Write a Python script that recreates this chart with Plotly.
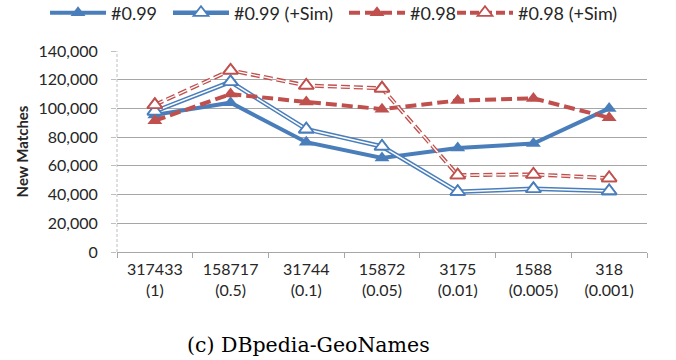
import plotly.graph_objects as go

categories = ["317433<br>(1)", "158717<br>(0.5)", "31744<br>(0.1)", "15872<br>(0.05)",
              "3175<br>(0.01)", "1588<br>(0.005)", "318<br>(0.001)"]
s099 = [95500, 104000, 76500, 65500, 72500, 75500, 100000]
s099_sim = [98000, 118500, 85500, 73500, 42000, 44000, 42500]
s098 = [91500, 110000, 104500, 99500, 105500, 107000, 93500]
s098_sim = [102500, 126500, 116000, 114000, 53500, 54000, 51500]
yticks = [0, 20000, 40000, 60000, 80000, 100000, 120000, 140000]

BLUE = "#4A7EBB"
RED = "#C0504D"
FONT = "Lato"

fig = go.Figure()

# #0.99 solid
fig.add_trace(go.Scatter(x=categories, y=s099, name="#0.99", mode="lines+markers",
                         legend="legend",
                         line=dict(color=BLUE, width=4),
                         marker=dict(symbol="triangle-up", size=13, color=BLUE)))
# #0.99 (+Sim) double line
fig.add_trace(go.Scatter(x=categories, y=s099_sim, name="#0.99 (+Sim)", mode="lines+markers",
                         legend="legend2",
                         line=dict(color=BLUE, width=4.5),
                         marker=dict(symbol="triangle-up", size=13, color="white",
                                     line=dict(color=BLUE, width=1.8))))
fig.add_trace(go.Scatter(x=categories, y=s099_sim, mode="lines", showlegend=False,
                         line=dict(color="white", width=1.5), hoverinfo="skip"))
fig.add_trace(go.Scatter(x=categories, y=s099_sim, mode="markers", showlegend=False,
                         marker=dict(symbol="triangle-up", size=13, color="white",
                                     line=dict(color=BLUE, width=1.8)), hoverinfo="skip"))
# #0.98 dashed
fig.add_trace(go.Scatter(x=categories, y=s098, name="#0.98", mode="lines+markers",
                         legend="legend3",
                         line=dict(color=RED, width=4, dash="11px,5px"),
                         marker=dict(symbol="triangle-up", size=13, color=RED)))
# #0.98 (+Sim) dashed double line
fig.add_trace(go.Scatter(x=categories, y=s098_sim, name="#0.98 (+Sim)", mode="lines+markers",
                         legend="legend4",
                         line=dict(color=RED, width=4, dash="9px,4px"),
                         marker=dict(symbol="triangle-up", size=13, color="white",
                                     line=dict(color=RED, width=1.8))))
fig.add_trace(go.Scatter(x=categories, y=s098_sim, mode="lines", showlegend=False,
                         line=dict(color="white", width=1.3, dash="9px,4px"), hoverinfo="skip"))
fig.add_trace(go.Scatter(x=categories, y=s098_sim, mode="markers", showlegend=False,
                         marker=dict(symbol="triangle-up", size=13, color="white",
                                     line=dict(color=RED, width=1.8)), hoverinfo="skip"))

def leg(xp):
    return dict(orientation="h", x=xp, y=1.189, xanchor="left", yanchor="middle",
                font=dict(size=18, color="#262626"), itemwidth=56,
                bgcolor="rgba(0,0,0,0)")

fig.update_layout(
    width=676, height=360,
    margin=dict(l=117, r=29, t=51, b=108, autoexpand=False),
    paper_bgcolor="white", plot_bgcolor="white",
    font=dict(family=FONT, size=16, color="#262626"),
    legend=leg(-0.1358), legend2=leg(0.0962), legend3=leg(0.4283), legend4=leg(0.6321),
    showlegend=True,
)
fig.update_xaxes(type="category", showgrid=False, showline=True, linecolor="#A6A6A6",
                 linewidth=1, ticks="outside", tickson="boundaries", ticklen=5,
                 tickcolor="#A6A6A6", tickfont=dict(size=16, color="#262626"),
                 ticklabelstandoff=3, range=[-0.5, 6.5], automargin=False)
fig.update_yaxes(range=[0, 140000], tickvals=yticks, tickformat=",d", showgrid=True,
                 gridcolor="#A6A6A6", gridwidth=1, showline=False, zeroline=False,
                 ticks="outside", ticklen=5, tickcolor="#BFBFBF", automargin=False,
                 ticklabelstandoff=10, tickfont=dict(size=16, color="#262626"),
                 title=dict(text="<b>New Matches</b>", font=dict(size=15, color="#262626"),
                            standoff=6))
# dashed y axis line
fig.add_shape(type="line", xref="paper", yref="paper", x0=0, x1=0, y0=0, y1=1,
              line=dict(color="#BFBFBF", width=1, dash="3px,2px"))
fig.add_annotation(text="(c) DBpedia-GeoNames", xref="paper", yref="paper",
                   x=0.362, y=-0.463, xanchor="center", yanchor="middle", showarrow=False,
                   font=dict(family="DejaVu Serif", size=20.5, color="#000000"))

fig.write_html("out.html", config={"displayModeBar": False},
               post_script="document.body.style.margin='0px';")
